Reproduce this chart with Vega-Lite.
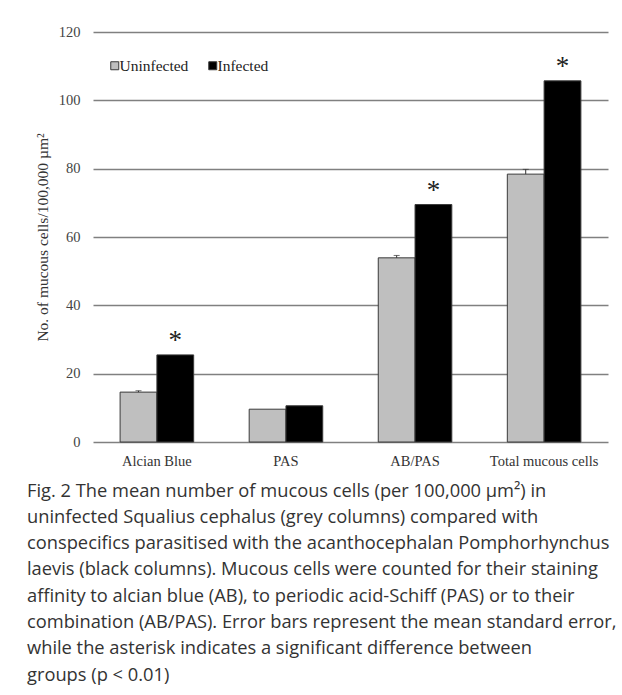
{
  "$schema": "https://vega.github.io/schema/vega-lite/v6.json",
  "autosize": {"type": "none"},
  "padding": {"left": 93, "top": 32, "right": 14, "bottom": 253},
  "width": 515,
  "height": 410,
  "background": "white",
  "data": {
    "values": [
      {"category": "Alcian Blue", "group": "Uninfected", "value": 14.6, "se": 0.4, "sig": false},
      {"category": "Alcian Blue", "group": "Infected", "value": 25.5, "se": null, "sig": true},
      {"category": "PAS", "group": "Uninfected", "value": 9.6, "se": null, "sig": false},
      {"category": "PAS", "group": "Infected", "value": 10.6, "se": null, "sig": false},
      {"category": "AB/PAS", "group": "Uninfected", "value": 53.9, "se": 0.7, "sig": false},
      {"category": "AB/PAS", "group": "Infected", "value": 69.5, "se": null, "sig": true},
      {"category": "Total mucous cells", "group": "Uninfected", "value": 78.4, "se": 1.4, "sig": false},
      {"category": "Total mucous cells", "group": "Infected", "value": 105.7, "se": null, "sig": true}
    ]
  },
  "title": {
    "text": [
      "Fig. 2 The mean number of mucous cells (per 100,000 µm²) in",
      "uninfected Squalius cephalus (grey columns) compared with",
      "conspecifics parasitised with the acanthocephalan Pomphorhynchus",
      "laevis (black columns). Mucous cells were counted for their staining",
      "affinity to alcian blue (AB), to periodic acid-Schiff (PAS) or to their",
      "combination (AB/PAS). Error bars represent the mean standard error,",
      "while the asterisk indicates a significant difference between",
      "groups (p < 0.01)"
    ],
    "orient": "bottom",
    "anchor": "start",
    "frame": "group",
    "dx": -66,
    "offset": 15,
    "font": "Open Sans",
    "fontSize": 18.3,
    "fontWeight": "normal",
    "color": "#333333",
    "lineHeight": 26.3
  },
  "encoding": {
    "x": {
      "field": "category",
      "type": "nominal",
      "sort": ["Alcian Blue", "PAS", "AB/PAS", "Total mucous cells"],
      "scale": {"paddingInner": 0.43, "paddingOuter": 0.21},
      "axis": {
        "title": null,
        "labelAngle": 0,
        "labelFont": "Liberation Serif",
        "labelFontSize": 14.5,
        "labelColor": "#333333",
        "labelPadding": 12,
        "ticks": false,
        "domain": false
      }
    },
    "xOffset": {
      "field": "group",
      "type": "nominal",
      "sort": ["Uninfected", "Infected"],
      "scale": {"paddingInner": 0, "paddingOuter": 0}
    }
  },
  "layer": [
    {
      "mark": {"type": "bar", "stroke": "#3a3a3a", "strokeWidth": 1},
      "encoding": {
        "y": {
          "field": "value",
          "type": "quantitative",
          "scale": {"domain": [0, 120]},
          "axis": {
            "title": "No. of mucous cells/100,000  µm²",
            "titleFont": "Liberation Serif",
            "titleFontSize": 15.5,
            "titleFontWeight": "normal",
            "titleColor": "#333333",
            "titlePadding": 8,
            "values": [0, 20, 40, 60, 80, 100, 120],
            "labelFont": "Liberation Serif",
            "labelFontSize": 14.5,
            "labelColor": "#444444",
            "labelPadding": 13,
            "ticks": false,
            "domain": false,
            "grid": true,
            "gridColor": "#808080",
            "gridWidth": 1.3
          }
        },
        "color": {
          "field": "group",
          "type": "nominal",
          "sort": ["Uninfected", "Infected"],
          "scale": {"domain": ["Uninfected", "Infected"], "range": ["#bfbfbf", "#000000"]},
          "legend": {
            "title": null,
            "orient": "none",
            "direction": "horizontal",
            "legendX": 14,
            "legendY": 26,
            "symbolType": "square",
            "symbolSize": 64,
            "symbolStrokeColor": "#3a3a3a",
            "symbolStrokeWidth": 1,
            "labelFont": "Liberation Serif",
            "labelFontSize": 15.5,
            "labelColor": "#222222",
            "labelOffset": -3,
            "columnPadding": 16,
            "gridAlign": "none",
            "padding": 0
          }
        }
      }
    },
    {
      "transform": [
        {"filter": "isValid(datum.se)"},
        {"calculate": "datum.value + datum.se", "as": "upper"}
      ],
      "mark": {"type": "rule", "color": "#333333", "strokeWidth": 1},
      "encoding": {
        "y": {"field": "value", "type": "quantitative"},
        "y2": {"field": "upper"}
      }
    },
    {
      "transform": [
        {"filter": "isValid(datum.se)"},
        {"calculate": "datum.value + datum.se", "as": "upper"}
      ],
      "mark": {"type": "tick", "color": "#333333", "thickness": 1, "size": 6},
      "encoding": {
        "y": {"field": "upper", "type": "quantitative"}
      }
    },
    {
      "transform": [{"filter": "datum.sig"}],
      "mark": {"type": "text", "text": "*", "font": "Liberation Serif", "fontSize": 27, "dy": -14, "baseline": "middle", "color": "#222222"},
      "encoding": {
        "y": {"field": "value", "type": "quantitative"}
      }
    }
  ],
  "config": {
    "view": {"stroke": null}
  }
}
